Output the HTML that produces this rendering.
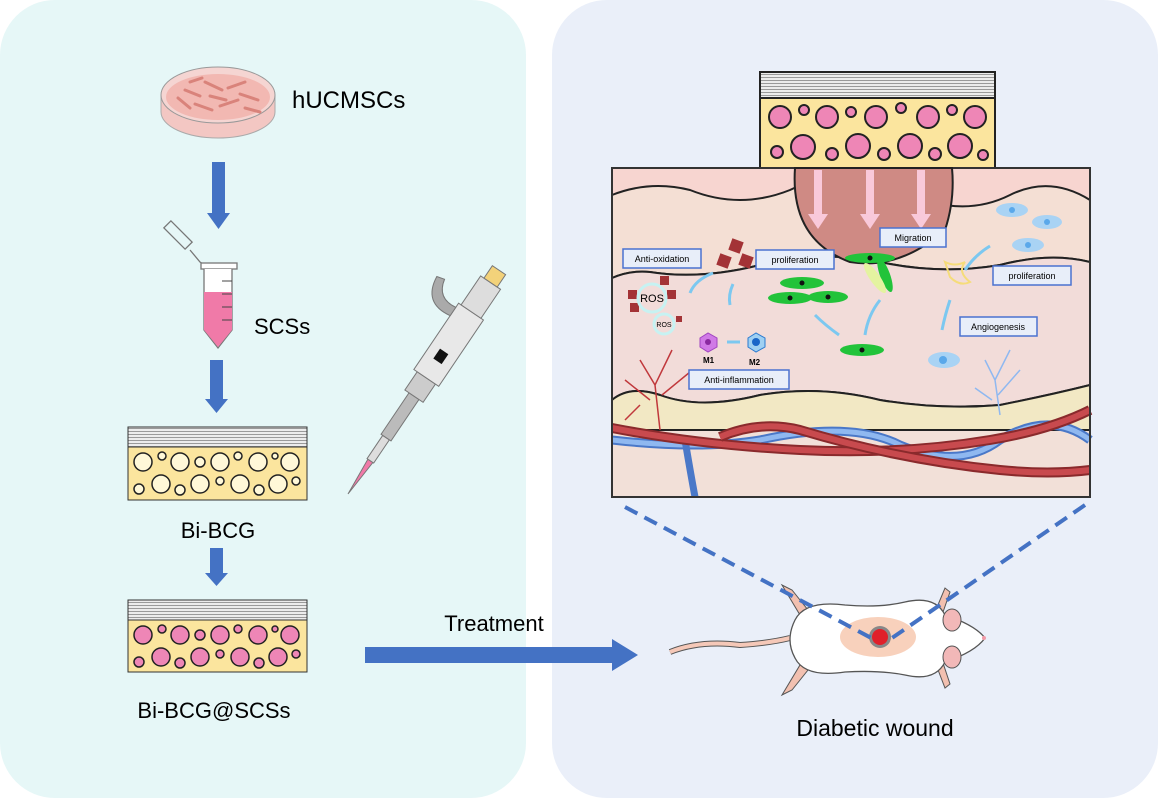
<!DOCTYPE html>
<html><head><meta charset="utf-8"><style>
html,body{margin:0;padding:0;background:#fff}
svg{display:block}
text{font-family:"Liberation Sans",Arial,sans-serif}
</style></head><body>
<svg width="1158" height="798" viewBox="0 0 1158 798" xmlns="http://www.w3.org/2000/svg">
<defs>
<pattern id="str" width="10" height="3" patternUnits="userSpaceOnUse"><rect width="10" height="3" fill="#ececec"/><rect y="2" width="10" height="1" fill="#9a9a9a"/></pattern>
</defs>
<rect x="0" y="0" width="526" height="798" rx="55" fill="#e6f7f7"/>
<rect x="552" y="0" width="606" height="798" rx="55" fill="#eaeff9"/>

<!-- dish -->
<path d="M161 95 L161 112 A57 26 0 0 0 275 112 L275 95 Z" fill="#f3c7c3" stroke="#aaa"/>
<ellipse cx="218" cy="95" rx="57" ry="28" fill="#f5d5d2" stroke="#999"/>
<ellipse cx="218" cy="97" rx="52" ry="23" fill="#f2b8b2"/>
<g stroke="#d9837b" stroke-width="3" stroke-linecap="round">
<line x1="185" y1="90" x2="200" y2="96"/><line x1="205" y1="82" x2="222" y2="90"/><line x1="228" y1="88" x2="245" y2="82"/><line x1="195" y1="104" x2="212" y2="110"/><line x1="220" y1="106" x2="238" y2="100"/><line x1="240" y1="94" x2="258" y2="100"/><line x1="210" y1="96" x2="226" y2="100"/><line x1="178" y1="98" x2="190" y2="108"/><line x1="245" y1="108" x2="260" y2="112"/><line x1="190" y1="82" x2="202" y2="78"/></g>
<text x="292" y="108" font-size="24">hUCMSCs</text>
<!-- arrows -->
<g fill="#4472c4">
<rect x="212" y="162" width="13" height="52"/><polygon points="207,213 230,213 218.5,229"/>
<rect x="210" y="360" width="13" height="40"/><polygon points="205,399 228,399 216.5,413"/>
<rect x="210" y="548" width="13" height="26"/><polygon points="205,573 228,573 216.5,586"/>
<rect x="365" y="647" width="250" height="16"/><polygon points="612,639 638,655 612,671"/>
</g>
<!-- tube -->
<g stroke="#777" fill="none" stroke-width="1.3">
<rect x="163" y="230" width="30" height="10" transform="rotate(45 178 235)"/>
<path d="M190 250 L200 262 L203 264"/>
<rect x="201" y="263" width="36" height="6" fill="#fff"/>
<path d="M204 269 L204 330 L218 348 L232 330 L232 269" fill="#fff"/>
</g>
<path d="M204 292 L232 292 L232 330 L218 347 L204 330 Z" fill="#f07aa8"/>
<g stroke="#444" stroke-width="1"><line x1="222" y1="281" x2="232" y2="281"/><line x1="222" y1="294" x2="232" y2="294"/><line x1="222" y1="307" x2="232" y2="307"/><line x1="222" y1="320" x2="232" y2="320"/></g>
<text x="254" y="334" font-size="22">SCSs</text>
<!-- Bi-BCG -->
<rect x="128" y="427" width="179" height="20" fill="url(#str)" stroke="#333"/>
<rect x="128" y="447" width="179" height="53" fill="#fbe59e" stroke="#333"/>
<g fill="#fff8d8" stroke="#222" stroke-width="1.5">
<circle cx="143" cy="462" r="9"/><circle cx="162" cy="456" r="4"/><circle cx="180" cy="462" r="9"/><circle cx="200" cy="462" r="5"/><circle cx="220" cy="462" r="9"/><circle cx="238" cy="456" r="4"/><circle cx="258" cy="462" r="9"/><circle cx="275" cy="456" r="3"/><circle cx="290" cy="462" r="9"/>
<circle cx="139" cy="489" r="5"/><circle cx="161" cy="484" r="9"/><circle cx="180" cy="490" r="5"/><circle cx="200" cy="484" r="9"/><circle cx="220" cy="481" r="4"/><circle cx="240" cy="484" r="9"/><circle cx="259" cy="490" r="5"/><circle cx="278" cy="484" r="9"/><circle cx="296" cy="481" r="4"/></g>
<text x="218" y="538" font-size="22" text-anchor="middle">Bi-BCG</text>
<!-- Bi-BCG@SCSs -->
<rect x="128" y="600" width="179" height="20" fill="url(#str)" stroke="#333"/>
<rect x="128" y="620" width="179" height="52" fill="#fbe59e" stroke="#333"/>
<g fill="#ee86b6" stroke="#222" stroke-width="1.5">
<circle cx="143" cy="635" r="9"/><circle cx="162" cy="629" r="4"/><circle cx="180" cy="635" r="9"/><circle cx="200" cy="635" r="5"/><circle cx="220" cy="635" r="9"/><circle cx="238" cy="629" r="4"/><circle cx="258" cy="635" r="9"/><circle cx="275" cy="629" r="3"/><circle cx="290" cy="635" r="9"/>
<circle cx="139" cy="662" r="5"/><circle cx="161" cy="657" r="9"/><circle cx="180" cy="663" r="5"/><circle cx="200" cy="657" r="9"/><circle cx="220" cy="654" r="4"/><circle cx="240" cy="657" r="9"/><circle cx="259" cy="663" r="5"/><circle cx="278" cy="657" r="9"/><circle cx="296" cy="654" r="4"/></g>
<text x="214" y="718" font-size="22" text-anchor="middle">Bi-BCG@SCSs</text>
<text x="494" y="631" font-size="22" text-anchor="middle">Treatment</text>
<!-- pipette -->
<g transform="translate(348,494) rotate(-56)">
<path d="M0 0 L40 -3 L40 3 Z" fill="#f07aa8" stroke="#777"/>
<rect x="40" y="-4" width="28" height="8" fill="#ddd" stroke="#777"/>
<rect x="68" y="-6" width="50" height="12" fill="#bbb" stroke="#777"/>
<rect x="118" y="-11" width="22" height="22" fill="#ccc" stroke="#777"/>
<rect x="140" y="-15" width="80" height="30" fill="#e8e8e8" stroke="#777"/>
<rect x="160" y="-5" width="12" height="10" fill="#111"/>
<rect x="220" y="-12" width="35" height="24" fill="#ddd" stroke="#777"/>
<rect x="255" y="-8" width="15" height="16" fill="#f3d27a" stroke="#777"/>
<path d="M205 -15 Q200 -45 230 -48 L232 -40 Q212 -36 215 -15 Z" fill="#aaa" stroke="#777"/>
</g>

<!-- right top scaffold -->
<rect x="760" y="72" width="235" height="26" fill="url(#str)" stroke="#222" stroke-width="2"/>
<rect x="760" y="98" width="235" height="70" fill="#fbe59e" stroke="#222" stroke-width="2"/>
<g fill="#ee86b6" stroke="#222" stroke-width="2">
<circle cx="780" cy="117" r="11"/><circle cx="804" cy="110" r="5"/><circle cx="827" cy="117" r="11"/><circle cx="851" cy="112" r="5"/><circle cx="876" cy="117" r="11"/><circle cx="901" cy="108" r="5"/><circle cx="928" cy="117" r="11"/><circle cx="952" cy="110" r="5"/><circle cx="975" cy="117" r="11"/>
<circle cx="777" cy="152" r="6"/><circle cx="803" cy="147" r="12"/><circle cx="832" cy="154" r="6"/><circle cx="858" cy="146" r="12"/><circle cx="884" cy="154" r="6"/><circle cx="910" cy="146" r="12"/><circle cx="935" cy="154" r="6"/><circle cx="960" cy="146" r="12"/><circle cx="983" cy="155" r="5"/></g>

<!-- skin -->
<g>
<rect x="612" y="168" width="478" height="329" fill="#f2e0d8" stroke="#333" stroke-width="2"/>
<path d="M612 168 H1090 V200 Q1050 175 1010 195 Q960 220 900 190 Q840 165 790 190 Q740 210 690 190 Q650 180 612 195 Z" fill="#f7d5d0"/>
<path d="M612 195 Q650 180 690 190 Q740 210 790 190 Q840 165 900 190 Q960 220 1010 195 Q1050 175 1090 200 L1090 262 Q1050 252 1000 265 Q940 275 880 262 Q820 250 760 265 Q700 280 650 272 Q630 270 612 278 Z" fill="#f4dfd4" stroke="#222" stroke-width="2"/>
<path d="M612 278 Q630 270 650 272 Q700 280 760 265 Q820 250 880 262 Q940 275 1000 265 Q1050 252 1090 262 L1090 385 Q1050 395 1000 405 Q940 410 880 400 Q820 385 760 395 Q700 410 660 395 Q630 385 612 400 Z" fill="#f2dcd9" stroke="#222" stroke-width="2"/>
<path d="M612 400 Q630 385 660 395 Q700 410 760 395 Q820 385 880 400 Q940 410 1000 405 Q1050 395 1090 385 L1090 430 L612 430 Z" fill="#f2e8c4" stroke="#222" stroke-width="2"/>
<path d="M612 440 Q700 450 760 440 Q850 420 900 445 Q960 470 1000 440 Q1050 410 1090 440" fill="none" stroke="#4a78c8" stroke-width="9"/>
<path d="M612 440 Q700 450 760 440 Q850 420 900 445 Q960 470 1000 440 Q1050 410 1090 440" fill="none" stroke="#8fb8f0" stroke-width="5"/>
<path d="M685 440 Q690 470 695 497" fill="none" stroke="#4a78c8" stroke-width="7"/>
<path d="M612 428 Q700 445 800 450 Q900 455 990 440 Q1050 430 1090 410" fill="none" stroke="#8a2a2c" stroke-width="10"/>
<path d="M612 428 Q700 445 800 450 Q900 455 990 440 Q1050 430 1090 410" fill="none" stroke="#c84a4e" stroke-width="6"/>
<path d="M720 437 Q760 420 800 430 Q900 460 1000 470 Q1050 475 1090 470" fill="none" stroke="#8a2a2c" stroke-width="10"/>
<path d="M720 437 Q760 420 800 430 Q900 460 1000 470 Q1050 475 1090 470" fill="none" stroke="#c84a4e" stroke-width="6"/>
<rect x="612" y="168" width="478" height="329" fill="none" stroke="#333" stroke-width="2"/>
</g>
<!-- wound dome -->
<path d="M795 168 Q790 240 850 262 Q900 270 945 230 Q955 200 952 168 Z" fill="#cf8a84" stroke="#222" stroke-width="2"/>
<g fill="#f9c9da"><rect x="814" y="170" width="8" height="45"/><polygon points="808,214 828,214 818,229"/><rect x="866" y="170" width="8" height="45"/><polygon points="860,214 880,214 870,229"/><rect x="917" y="170" width="8" height="45"/><polygon points="911,214 931,214 921,229"/></g>
<!-- green cells -->
<g fill="#22c33a"><ellipse cx="802" cy="283" rx="22" ry="6"/><ellipse cx="790" cy="298" rx="22" ry="6"/><ellipse cx="828" cy="297" rx="20" ry="6"/><ellipse cx="862" cy="350" rx="22" ry="6"/><ellipse cx="870" cy="258" rx="25" ry="5"/><ellipse cx="885" cy="275" rx="5" ry="18" transform="rotate(-20 885 275)"/></g>
<ellipse cx="875" cy="278" rx="5" ry="18" fill="#e4f3a0" transform="rotate(-35 875 278)"/>
<g fill="#111"><circle cx="802" cy="283" r="2.5"/><circle cx="790" cy="298" r="2.5"/><circle cx="828" cy="297" r="2.5"/><circle cx="862" cy="350" r="2.5"/><circle cx="870" cy="258" r="2.5"/></g>
<!-- blue cells -->
<g fill="#a9d3f4"><ellipse cx="1012" cy="210" rx="16" ry="7"/><ellipse cx="1047" cy="222" rx="15" ry="7"/><ellipse cx="1028" cy="245" rx="16" ry="7"/><ellipse cx="944" cy="360" rx="16" ry="8"/></g>
<g fill="#5aa8ea"><circle cx="1012" cy="210" r="3"/><circle cx="1047" cy="222" r="3"/><circle cx="1028" cy="245" r="3"/><circle cx="943" cy="360" r="4"/></g>
<!-- ROS -->
<g fill="#a33336"><rect x="730" y="240" width="12" height="12" transform="rotate(20 736 246)"/><rect x="718" y="255" width="12" height="12" transform="rotate(20 724 261)"/><rect x="740" y="255" width="12" height="12" transform="rotate(20 746 261)"/><rect x="660" y="276" width="9" height="9"/><rect x="628" y="290" width="9" height="9"/><rect x="667" y="290" width="9" height="9"/><rect x="630" y="303" width="9" height="9"/><rect x="676" y="316" width="6" height="6"/></g>
<circle cx="652" cy="298" r="14" fill="none" stroke="#c7f2f2" stroke-width="3"/>
<text x="652" y="302" font-size="11" text-anchor="middle">ROS</text>
<circle cx="664" cy="324" r="10" fill="none" stroke="#c7f2f2" stroke-width="3"/>
<text x="664" y="327" font-size="7" text-anchor="middle">ROS</text>
<polygon points="700,338 708,333 717,338 717,347 708,352 700,347" fill="#d07ae6" stroke="#a044c0"/>
<circle cx="708" cy="342" r="3" fill="#8a2aa0"/>
<polygon points="748,338 756,333 765,338 765,347 756,352 748,347" fill="#9fd0f2" stroke="#2a7ad0"/>
<circle cx="756" cy="342" r="4" fill="#1a66c8"/>
<text x="703" y="363" font-size="8" font-weight="bold">M1</text>
<text x="749" y="365" font-size="8" font-weight="bold">M2</text>
<g stroke="#7cc8f0" stroke-width="3" fill="none"><path d="M713 273 Q695 280 690 293"/><path d="M733 284 Q728 295 730 305"/><path d="M839 335 Q825 325 815 315"/><path d="M865 335 Q868 315 880 300"/><path d="M965 270 Q975 255 990 246"/><path d="M950 300 Q945 315 942 330"/><path d="M727 342 H740"/></g>
<g stroke="#c0383c" stroke-width="1.5" fill="none"><path d="M660 430 L655 385 L640 360 M655 385 L672 350 M650 400 L625 380 M662 395 L690 372 M640 405 L625 420"/></g>
<g stroke="#8fb8f0" stroke-width="1.5" fill="none"><path d="M1000 415 L995 380 L985 360 M995 380 L1010 350 M998 395 L1020 370 M992 400 L975 388"/></g>
<path d="M945 262 q10 5 20 0 q-8 10 5 20 q-10 5 -20 -5 z" fill="none" stroke="#f5dc7a" stroke-width="2"/>
<g fill="#e8eef9" stroke="#4a72d0" stroke-width="1.5">
<rect x="623" y="249" width="78" height="19"/><rect x="756" y="250" width="78" height="19"/><rect x="880" y="228" width="66" height="19"/><rect x="993" y="266" width="78" height="19"/><rect x="960" y="317" width="77" height="19"/><rect x="689" y="370" width="100" height="19"/></g>
<g font-size="9" text-anchor="middle"><text x="662" y="262">Anti-oxidation</text><text x="795" y="263">proliferation</text><text x="913" y="241">Migration</text><text x="1032" y="279">proliferation</text><text x="998" y="330">Angiogenesis</text><text x="739" y="383">Anti-inflammation</text></g>

<!-- mouse -->
<path d="M670 652 Q700 640 740 645 Q770 643 790 638" fill="none" stroke="#555" stroke-width="6"/>
<path d="M670 652 Q700 640 740 645 Q770 643 790 638" fill="none" stroke="#f5c8b8" stroke-width="4"/>
<g fill="#f2c0b0" stroke="#555"><path d="M782 585 L800 615 L808 610 L792 590 Z"/><path d="M782 695 L800 665 L808 670 L792 690 Z"/><path d="M935 612 L945 588 L950 592 L942 615 Z"/><path d="M935 662 L945 688 L950 684 L942 660 Z"/></g>
<path d="M795 620 Q805 600 845 605 Q880 608 905 602 Q935 595 945 615 Q975 625 985 638 Q975 652 945 662 Q935 682 905 675 Q880 670 845 672 Q805 678 795 658 Q785 640 795 620 Z" fill="#fff" stroke="#555" stroke-width="1.3"/>
<g fill="#f2b8b8" stroke="#555"><ellipse cx="952" cy="620" rx="9" ry="11"/><ellipse cx="952" cy="657" rx="9" ry="11"/></g>
<circle cx="984" cy="638" r="2" fill="#f29aa8"/>
<ellipse cx="878" cy="637" rx="38" ry="20" fill="#f7c9b0" opacity="0.85"/>
<circle cx="880" cy="637" r="11" fill="#888"/><circle cx="880" cy="637" r="8" fill="#e0202a"/>
<g stroke="#4472c4" stroke-width="4" stroke-dasharray="14 8" fill="none"><path d="M625 507 L875 640"/><path d="M1085 505 L892 638"/></g>
<text x="875" y="736" font-size="23" text-anchor="middle">Diabetic  wound</text>
</svg>
</body></html>
